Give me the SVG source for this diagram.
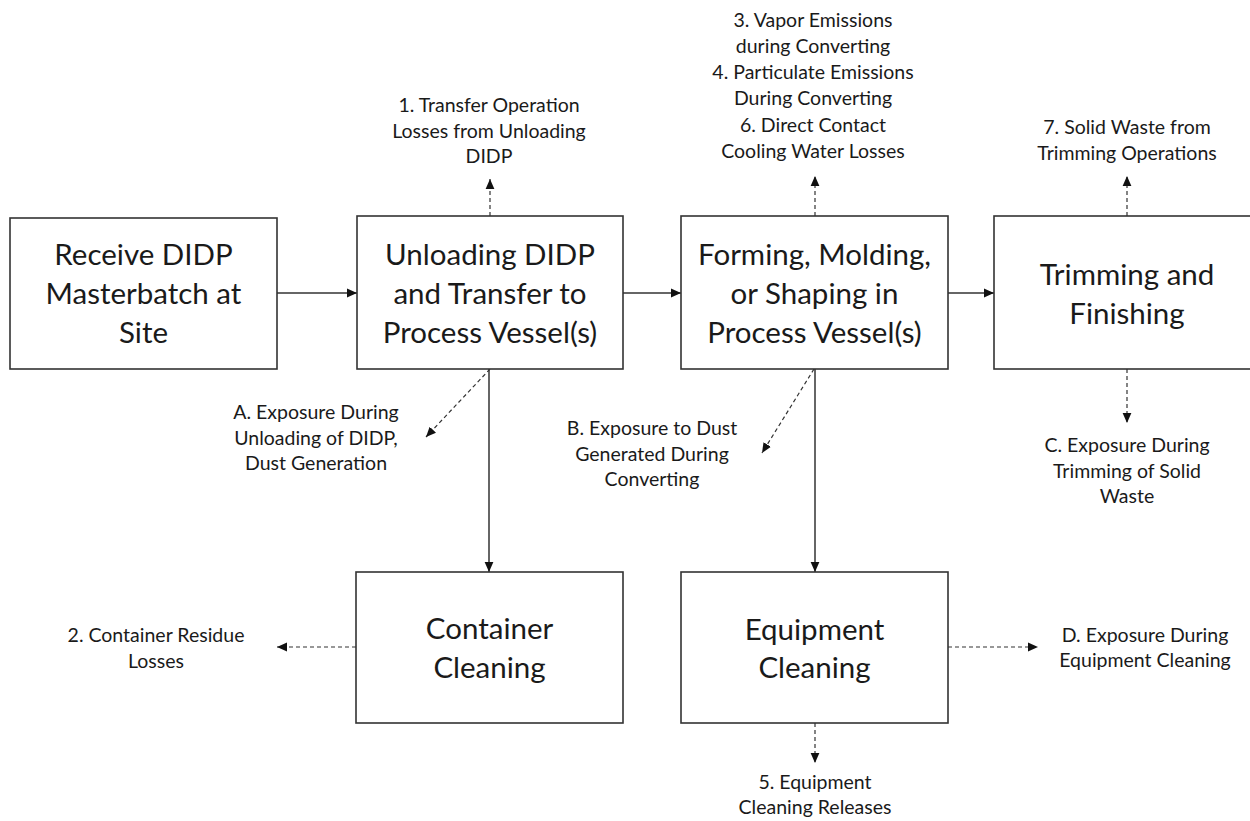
<svg xmlns="http://www.w3.org/2000/svg" width="1250" height="821" viewBox="0 0 1250 821">
<style>
.box{fill:#fff;stroke:#333;stroke-width:1.6}
.big{font-family:Lato,"Liberation Sans",sans-serif;font-size:29.5px;fill:#1a1a1a;text-anchor:middle}
.sm{font-family:Lato,"Liberation Sans",sans-serif;font-size:19.5px;fill:#1a1a1a;text-anchor:middle}
.solid{stroke:#333;stroke-width:1.5;fill:none}
.dash{stroke:#333;stroke-width:1.2;fill:none;stroke-dasharray:4 3}
</style>
<defs>
<marker id="ah" markerUnits="userSpaceOnUse" markerWidth="12" markerHeight="10" refX="10" refY="5" orient="auto">
<path d="M0,0.6 L10,5 L0,9.4 Z" fill="#111"/>
</marker>
</defs>
<rect width="1250" height="821" fill="#fff"/>
<g id="connectors">
<line class="solid" x1="277" y1="293" x2="357" y2="293" marker-end="url(#ah)"/>
<line class="solid" x1="623" y1="293" x2="681" y2="293" marker-end="url(#ah)"/>
<line class="solid" x1="948" y1="293" x2="994" y2="293" marker-end="url(#ah)"/>
<line class="solid" x1="489" y1="369" x2="489" y2="572" marker-end="url(#ah)"/>
<line class="solid" x1="815" y1="369" x2="815" y2="572" marker-end="url(#ah)"/>
<line class="dash" x1="490" y1="216" x2="490" y2="179" marker-end="url(#ah)"/>
<line class="dash" x1="815" y1="216" x2="815" y2="176" marker-end="url(#ah)"/>
<line class="dash" x1="1127" y1="216" x2="1127" y2="176" marker-end="url(#ah)"/>
<line class="dash" x1="1127" y1="369" x2="1127" y2="423" marker-end="url(#ah)"/>
<line class="dash" x1="490" y1="369" x2="426" y2="437" marker-end="url(#ah)"/>
<line class="dash" x1="814" y1="369" x2="762" y2="453" marker-end="url(#ah)"/>
<line class="dash" x1="356" y1="647" x2="277" y2="647" marker-end="url(#ah)"/>
<line class="dash" x1="948" y1="647" x2="1038" y2="647" marker-end="url(#ah)"/>
<line class="dash" x1="815" y1="723" x2="815" y2="763" marker-end="url(#ah)"/>
</g>
<g id="receive">
<rect class="box" x="10" y="218" width="267" height="151"/>
<text class="big" x="143.5" y="265">Receive DIDP</text>
<text class="big" x="143.5" y="304">Masterbatch at</text>
<text class="big" x="143.5" y="343">Site</text>
</g>
<g id="unloading">
<rect class="box" x="357" y="216" width="266" height="153"/>
<text class="big" x="490" y="265">Unloading DIDP</text>
<text class="big" x="490" y="304">and Transfer to</text>
<text class="big" x="490" y="343">Process Vessel(s)</text>
</g>
<g id="forming">
<rect class="box" x="681" y="216" width="267" height="153"/>
<text class="big" x="814.5" y="265">Forming, Molding,</text>
<text class="big" x="814.5" y="304">or Shaping in</text>
<text class="big" x="814.5" y="343">Process Vessel(s)</text>
</g>
<g id="trimming">
<rect class="box" x="994" y="216" width="266" height="153"/>
<text class="big" x="1127" y="285">Trimming and</text>
<text class="big" x="1127" y="324">Finishing</text>
</g>
<g id="container">
<rect class="box" x="356" y="572" width="267" height="151"/>
<text class="big" x="489.5" y="639">Container</text>
<text class="big" x="489.5" y="678">Cleaning</text>
</g>
<g id="equipment">
<rect class="box" x="681" y="572" width="267" height="151"/>
<text class="big" x="814.5" y="640">Equipment</text>
<text class="big" x="814.5" y="678">Cleaning</text>
</g>
<g id="label1">
<text class="sm" x="489" y="112">1. Transfer Operation</text>
<text class="sm" x="489" y="138">Losses from Unloading</text>
<text class="sm" x="489" y="163">DIDP</text>
</g>
<g id="label346">
<text class="sm" x="813" y="27">3. Vapor Emissions</text>
<text class="sm" x="813" y="53">during Converting</text>
<text class="sm" x="813" y="79">4. Particulate Emissions</text>
<text class="sm" x="813" y="105">During Converting</text>
<text class="sm" x="813" y="132">6. Direct Contact</text>
<text class="sm" x="813" y="158">Cooling Water Losses</text>
</g>
<g id="label7">
<text class="sm" x="1127" y="134">7. Solid Waste from</text>
<text class="sm" x="1127" y="160">Trimming Operations</text>
</g>
<g id="labelA">
<text class="sm" x="316" y="419">A. Exposure During</text>
<text class="sm" x="316" y="445">Unloading of DIDP,</text>
<text class="sm" x="316" y="470">Dust Generation</text>
</g>
<g id="labelB">
<text class="sm" x="652" y="435">B. Exposure to Dust</text>
<text class="sm" x="652" y="461">Generated During</text>
<text class="sm" x="652" y="486">Converting</text>
</g>
<g id="labelC">
<text class="sm" x="1127" y="452">C. Exposure During</text>
<text class="sm" x="1127" y="478">Trimming of Solid</text>
<text class="sm" x="1127" y="503">Waste</text>
</g>
<g id="label2">
<text class="sm" x="156" y="642">2. Container Residue</text>
<text class="sm" x="156" y="668">Losses</text>
</g>
<g id="labelD">
<text class="sm" x="1145" y="642">D. Exposure During</text>
<text class="sm" x="1145" y="667">Equipment Cleaning</text>
</g>
<g id="label5">
<text class="sm" x="815" y="789">5. Equipment</text>
<text class="sm" x="815" y="814">Cleaning Releases</text>
</g>
</svg>
